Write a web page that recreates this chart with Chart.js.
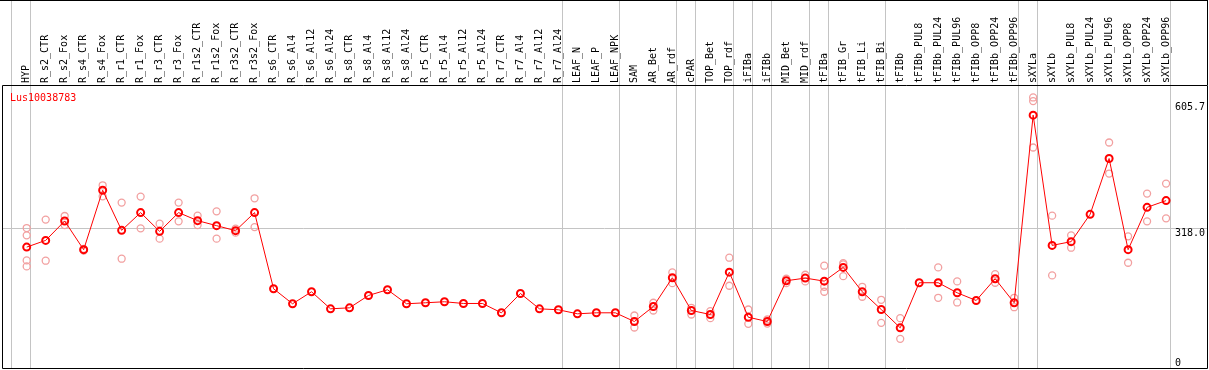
<!DOCTYPE html>
<html>
<head>
<meta charset="utf-8">
<script src="https://cdn.jsdelivr.net/npm/chart.js@4.4.1/dist/chart.umd.min.js"></script>
<style>
  html, body { margin: 0; padding: 0; background: #fff; }
  #chart { display: block; }
</style>
</head>
<body>
<canvas id="chart" width="1209" height="370"></canvas>
<script>
const geneName = 'Lus10038783';

const categories = [
    'HYP', 'R_s2_CTR', 'R_s2_Fox', 'R_s4_CTR', 'R_s4_Fox', 'R_r1_CTR', 'R_r1_Fox', 'R_r3_CTR', 'R_r3_Fox',
    'R_r1s2_CTR', 'R_r1s2_Fox', 'R_r3s2_CTR', 'R_r3s2_Fox', 'R_s6_CTR', 'R_s6_Al4', 'R_s6_Al12', 'R_s6_Al24',
    'R_s8_CTR', 'R_s8_Al4', 'R_s8_Al12', 'R_s8_Al24', 'R_r5_CTR', 'R_r5_Al4', 'R_r5_Al12', 'R_r5_Al24',
    'R_r7_CTR', 'R_r7_Al4', 'R_r7_Al12', 'R_r7_Al24', 'LEAF_N', 'LEAF_P', 'LEAF_NPK', 'SAM', 'AR_Bet', 'AR_rdf',
    'cPAR', 'TOP_Bet', 'TOP_rdf', 'iFIBa', 'iFIBb', 'MID_Bet', 'MID_rdf', 'tFIBa', 'tFIB_Gr', 'tFIB_Li', 'tFIB_Bi',
    'tFIBb', 'tFIBb_PUL8', 'tFIBb_PUL24', 'tFIBb_PUL96', 'tFIBb_OPP8', 'tFIBb_OPP24', 'tFIBb_OPP96', 'sXYLa',
    'sXYLb', 'sXYLb_PUL8', 'sXYLb_PUL24', 'sXYLb_PUL96', 'sXYLb_OPP8', 'sXYLb_OPP24', 'sXYLb_OPP96'
];

// mean expression per sample
const means = [
    276.0, 291.3, 335.5, 270.1, 405.7, 314.2, 354.7, 311.9, 354.7, 336.4, 324.9, 313.5, 354.7,
    180.9, 146.6, 174.0, 135.1, 137.4, 165.6, 178.6, 146.6, 148.9, 151.2, 147.3, 147.3,
    126.0, 170.1, 135.1, 132.9, 123.7, 126.0, 126.0, 106.1, 140.4, 206.0, 131.3, 122.1, 218.8,
    115.9, 106.1, 199.2, 205.2, 198.3, 229.6, 174.0, 133.5, 91.7, 194.6, 194.6, 171.7, 154.1,
    203.7, 148.9, 577.2, 279.9, 288.4, 350.8, 478.2, 270.1, 366.8, 382.1
];

// individual replicates per sample
const replicates = [
    [319.5, 302.8, 245.6, 231.9], [338.7, 244.9], [347.0, 326.3], [268.0, 272.0], [417.1, 391.9],
    [377.5, 249.5], [391.3, 318.8], [329.5, 295.2], [377.5, 334.8], [347.8, 326.3], [357.6, 295.2],
    [318.0, 309.0], [387.4, 321.7], [], [], [], [], [], [], [], [], [], [], [], [], [], [], [], [],
    [], [], [], [119.8, 92.4], [148.9, 131.3], [218.2, 193.7], [137.4, 122.1], [129.7, 113.7],
    [251.8, 187.7], [133.5, 100.8], [110.7, 101.5], [203.7, 193.7], [212.9, 197.6],
    [233.5, 185.4, 174.0], [239.4, 236.4, 209.7], [185.4, 162.6], [155.7, 103.1], [113.7, 66.5],
    [], [229.6, 160.3], [197.6, 149.6], [], [214.3, 194.6], [160.3, 138.8],
    [617.6, 609.2, 503.3], [347.8, 211.3], [302.8, 274.6], [], [514.8, 443.9], [300.5, 240.3],
    [398.1, 334.8], [421.0, 341.6]
];

// sample index after which a group separator is drawn
const groupEnds = [0, 1, 29, 32, 35, 36, 38, 39, 40, 42, 43, 46, 53, 54, 61];

const yTicks = [0, 318.0, 605.7];
const yTickLabels = ['0', '318.0', '605.7'];
const yMax = 646;

const FONT = "'DejaVu Sans Mono', monospace";
const SEP_SHIFT = 0.22;
const HEAD = 85;

const meanPoints = means.map((v, i) => ({x: i + 1, y: v}));
const repPoints = [];
replicates.forEach((arr, i) => arr.forEach(v => repPoints.push({x: i + 1, y: v})));

const sepValues = groupEnds.map(k => k + SEP_SHIFT);
const xTickValues = categories.map((c, i) => i + 1).concat(sepValues).sort((a, b) => a - b);

function isSep(v) {
    return sepValues.some(s => Math.abs(s - v) < 1e-6);
}

const framePlugin = {
    id: 'frame',
    afterDraw(chart) {
        const {ctx, chartArea: a} = chart;
        ctx.save();
        ctx.strokeStyle = '#000';
        ctx.lineWidth = 1;
        ctx.beginPath();
        ctx.moveTo(0, 0.5);
        ctx.lineTo(a.right + 1, 0.5);
        ctx.moveTo(a.right + 0.5, 0);
        ctx.lineTo(a.right + 0.5, a.top);
        ctx.rect(a.left + 0.5, a.top + 0.5, a.right - a.left, a.bottom - a.top);
        ctx.stroke();
        ctx.fillStyle = '#ff0000';
        ctx.font = '10px ' + FONT;
        ctx.textBaseline = 'alphabetic';
        ctx.fillText(geneName, a.left + 8, a.top + 16);
        ctx.restore();
    }
};

new Chart(document.getElementById('chart'), {
    data: {
        datasets: [
            {
                type: 'line',
                label: geneName,
                data: meanPoints,
                borderColor: '#ff0000',
                borderWidth: 1,
                pointRadius: 3.5,
                pointBorderWidth: 2,
                pointBorderColor: '#ff0000',
                pointBackgroundColor: 'rgba(255,255,255,0)',
                tension: 0,
                fill: false,
                order: 0,
            },
            {
                type: 'scatter',
                label: 'replicates',
                data: repPoints,
                borderColor: '#f2a0a0',
                backgroundColor: 'rgba(255,255,255,0)',
                pointRadius: 3.5,
                borderWidth: 1.3,
                order: 1,
            },
        ],
    },
    options: {
        responsive: false,
        animation: false,
        layout: {
            autoPadding: false,
            padding: {top: 0, right: 2, bottom: 2, left: 2},
        },
        plugins: {
            legend: {display: false},
            tooltip: {enabled: false},
        },
        scales: {
            x: {
                type: 'linear',
                position: 'top',
                min: -0.3007,
                max: 63.155,
                afterBuildTicks: axis => {
                    axis.ticks = xTickValues.map(v => ({value: v}));
                },
                afterFit: axis => {
                    axis.height = HEAD;
                    axis.paddingLeft = 0;
                    axis.paddingRight = 0;
                },
                ticks: {
                    autoSkip: false,
                    minRotation: 90,
                    maxRotation: 90,
                    padding: -83,
                    labelOffset: 12,
                    color: '#000',
                    font: {family: FONT, size: 10, lineHeight: '12px'},
                    callback: v => (Number.isInteger(v) ? categories[v - 1] : ''),
                },
                grid: {
                    color: ctx => (ctx.tick && isSep(ctx.tick.value) ? '#c4c4c4' : 'rgba(0,0,0,0)'),
                    lineWidth: 1,
                    tickLength: HEAD,
                    drawOnChartArea: true,
                },
                border: {display: false},
            },
            y: {
                type: 'linear',
                position: 'right',
                min: 0,
                max: yMax,
                afterBuildTicks: axis => {
                    axis.ticks = yTicks.map(v => ({value: v}));
                },
                afterFit: axis => {
                    axis.width = 0;
                    axis.paddingTop = 0;
                    axis.paddingBottom = 0;
                },
                ticks: {
                    mirror: true,
                    padding: -2,
                    color: '#000',
                    font: {family: FONT, size: 10, lineHeight: '9px'},
                    callback: v => {
                        const lab = yTickLabels[yTicks.indexOf(v)];
                        return v === 0 ? [lab + '    ', ''] : ['', lab];
                    },
                },
                grid: {
                    color: ctx => (ctx.tick && ctx.tick.value === 318.0 ? '#c4c4c4' : 'rgba(0,0,0,0)'),
                    drawTicks: false,
                },
                border: {display: false},
            },
        },
    },
    plugins: [framePlugin],
});
</script>
</body>
</html>
